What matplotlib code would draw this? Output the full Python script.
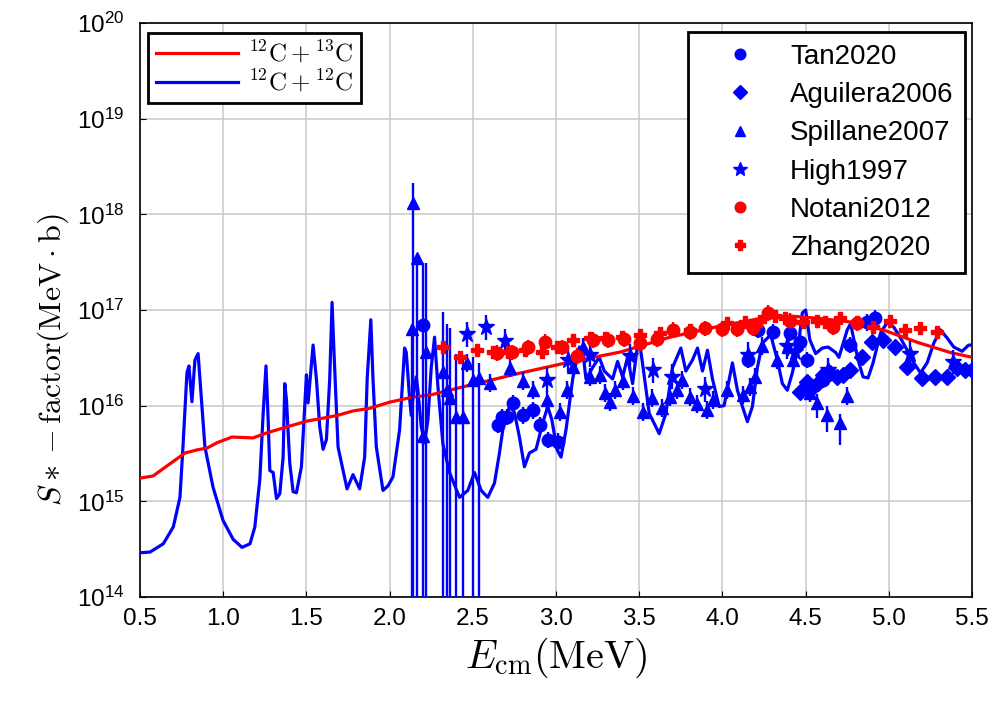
import matplotlib
matplotlib.use('Agg')
import matplotlib.pyplot as plt
from matplotlib.ticker import FixedLocator, NullLocator, LogFormatterSciNotation

plt.rcParams['font.family'] = ['Liberation Sans', 'DejaVu Sans']
plt.rcParams['mathtext.fontset'] = 'cm'

# ---- theory curves ----
e_12c13c = [0.5, 0.578, 0.698, 0.77, 0.843, 0.903, 0.963, 1.053, 1.179, 1.263, 1.383,
            1.504, 1.60, 1.684, 1.78, 1.882, 2.002, 2.14, 2.243, 2.483, 2.784, 3.084,
            3.385, 3.685, 3.986, 4.268, 4.424, 4.569, 4.767, 4.965, 5.17, 5.368, 5.5]
s_12c13c = [1.75e15, 1.84e15, 2.6e15, 3.2e15, 3.45e15, 3.6e15, 4.1e15, 4.7e15, 4.6e15,
            5.2e15, 6.0e15, 6.9e15, 7.4e15, 7.9e15, 8.8e15, 9.4e15, 1.09e16, 1.23e16,
            1.29e16, 1.64e16, 2.19e16, 2.86e16, 3.63e16, 5.2e16, 6.8e16, 8.4e16, 8.6e16,
            8.2e16, 7.5e16, 6.2e16, 4.6e16, 3.6e16, 3.2e16]

e_12c12c = [0.50, 0.56, 0.64, 0.70, 0.74, 0.758, 0.782, 0.794, 0.812, 0.83, 0.849, 0.86,
            0.89, 0.939, 0.999, 1.06, 1.113, 1.161, 1.19, 1.22, 1.24, 1.257, 1.27, 1.28,
            1.30, 1.32, 1.34, 1.36, 1.37, 1.38, 1.40, 1.42, 1.44, 1.47, 1.50, 1.51, 1.54,
            1.56, 1.58, 1.60, 1.62, 1.64, 1.654, 1.666, 1.69, 1.744, 1.78, 1.82, 1.85,
            1.865, 1.887, 1.90, 1.92, 1.96, 1.99, 2.02, 2.06, 2.09, 2.10, 2.12, 2.13, 2.14,
            2.16, 2.17, 2.19, 2.21, 2.23, 2.25, 2.27, 2.29, 2.32, 2.36, 2.42, 2.47, 2.51,
            2.55, 2.59, 2.63, 2.66, 2.68, 2.72, 2.75, 2.78, 2.81, 2.84, 2.88, 2.92, 2.95,
            2.975, 3.005, 3.03, 3.06, 3.10, 3.14, 3.16, 3.18, 3.22, 3.26, 3.29, 3.34, 3.37,
            3.40, 3.43, 3.46, 3.49, 3.50, 3.52, 3.56, 3.62, 3.66, 3.70, 3.75, 3.78, 3.82,
            3.85, 3.88, 3.91, 3.94, 3.98, 4.01, 4.06, 4.09, 4.12, 4.15, 4.18, 4.21, 4.24,
            4.29, 4.33, 4.36, 4.39, 4.42, 4.455, 4.48, 4.50, 4.525, 4.56, 4.60, 4.635, 4.68,
            4.70, 4.75, 4.77, 4.79, 4.815, 4.845, 4.875, 4.905, 4.95, 4.99, 5.03, 5.07,
            5.11, 5.15, 5.19, 5.23, 5.27, 5.31, 5.35, 5.39, 5.44, 5.48, 5.50]
s_12c12c = [2.9e14, 2.95e14, 3.6e14, 5.4e14, 1.1e15, 3.7e15, 2.2e16, 2.6e16, 1.1e16, 3.0e16,
            3.5e16, 1.9e16, 3.7e15, 1.4e15, 6.3e14, 4.0e14, 3.3e14, 3.6e14, 5.4e14, 1.7e15,
            8.3e15, 2.6e16, 7.1e15, 2.1e15, 2.0e15, 1.07e15, 1.2e15, 2.9e15, 1.7e16,
            1.15e16, 2.5e15, 1.26e15, 1.23e15, 2.3e15, 2.1e16, 1.07e16, 4.3e16, 1.9e16,
            6.0e15, 3.5e15, 4.4e15, 1.9e16, 1.2e17, 3.5e16, 3.7e15, 1.35e15, 1.9e15,
            1.35e15, 2.9e15, 1.9e16, 7.9e16, 1.9e16, 3.7e15, 1.3e15, 1.45e15, 1.8e15,
            5.6e15, 4.0e16, 3.6e16, 1.2e16, 7.9e15, 1.2e16, 2.0e16, 1.45e16, 6.0e15,
            4.1e15, 7.1e15, 2.5e16, 5.2e16, 1.6e16, 4.0e15, 2.0e15, 1.1e15, 1.3e15, 2.0e15,
            1.3e15, 1.1e15, 1.55e15, 3.2e15, 5.6e15, 9.8e15, 8.5e15, 4.7e15, 2.3e15,
            3.2e15, 3.5e15, 6.6e15, 9.8e15, 7.1e15, 3.5e15, 2.9e15, 5.6e15, 1.9e16,
            4.1e16, 3.8e16, 1.9e16, 2.5e16, 3.2e16, 2.3e16, 1.9e16, 2.9e16, 2.0e16, 3.2e16,
            1.7e16, 4.3e16, 4.9e16, 2.75e16, 8.3e15, 5.1e15, 8.3e15, 2.5e16, 4.0e16,
            2.3e16, 3.0e16, 4.0e16, 2.3e16, 3.8e16, 1.9e16, 9.8e15, 1.0e16, 2.8e16,
            1.45e16, 9.8e15, 6.8e15, 9.8e15, 2.5e16, 4.5e16, 5.5e16, 3.0e16, 1.7e16,
            1.45e16, 2.2e16, 4.1e16, 9.3e16, 1.0e17, 4.9e16, 3.5e16, 4.0e16, 4.1e16,
            3.6e16, 3.2e16, 6.2e16, 7.2e16, 4.9e16, 3.0e16, 2.0e16, 1.95e16, 2.8e16,
            5.75e16, 7.4e16, 6.6e16, 5.1e16, 3.8e16, 2.8e16, 2.2e16, 2.8e16, 4.5e16,
            6.2e16, 5.1e16, 4.1e16, 3.7e16, 4.3e16, 4.3e16]

# ---- experimental data ----
tan_e = [2.201, 2.651, 2.675, 2.705, 2.742, 2.802, 2.862, 2.904, 2.952, 3.012,
         4.154, 4.214, 4.304, 4.406, 4.466, 4.508, 4.604, 4.767, 4.869, 4.917]
tan_s = [6.9e16, 6.3e15, 7.6e15, 7.6e15, 1.07e16, 7.9e15, 8.9e15, 6.3e15, 4.4e15, 4.2e15,
         3.0e16, 6.2e16, 5.9e16, 5.75e16, 4.6e16, 3.0e16, 1.86e16, 4.3e16, 7.4e16, 8.2e16]
tan_lo = [1e13] + [None] * 19
tan_hi = [3.1e17] + [None] * 19

agu_e = [4.466, 4.508, 4.538, 4.574, 4.605, 4.647, 4.689, 4.725, 4.767, 4.839,
         4.899, 4.965, 5.037, 5.109, 5.199, 5.278, 5.35, 5.41, 5.458, 5.50]
agu_s = [1.39e16, 1.77e16, 1.53e16, 1.72e16, 2.09e16, 2.19e16, 2.0e16, 2.09e16, 2.34e16,
         3.24e16, 4.62e16, 4.85e16, 4.07e16, 2.51e16, 1.95e16, 2.0e16, 2.0e16, 2.45e16,
         2.34e16, 2.34e16]

spill_e = [2.135, 2.141, 2.165, 2.201, 2.219, 2.321, 2.345, 2.363, 2.399, 2.441, 2.465,
           2.501, 2.537, 2.603, 2.724, 2.802, 2.862, 2.946, 3.024, 3.066, 3.102, 3.162,
           3.204, 3.264, 3.294, 3.324, 3.355, 3.403, 3.463, 3.523, 3.577, 3.637, 3.685,
           3.727, 3.757, 3.805, 3.847, 3.907, 3.944, 4.028, 4.124, 4.166, 4.196, 4.238,
           4.328, 4.394, 4.424, 4.526, 4.569, 4.629, 4.707, 4.749]
spill_s = [6.3e16, 1.31e18, 3.48e17, 4.8e15, 3.63e16, 2.24e16, 1.46e16, 1.2e16, 7.6e15,
           7.6e15, 2.79e16, 1.85e16, 1.94e16, 1.72e16, 2.47e16, 1.81e16, 1.46e16, 1.15e16,
           8.6e15, 1.46e16, 2.53e16, 4.1e16, 1.99e16, 2.09e16, 1.36e16, 1.09e16, 1.46e16,
           1.81e16, 1.26e16, 8.6e15, 1.2e16, 9.4e15, 1.23e16, 1.46e16, 1.85e16, 1.23e16,
           1.04e16, 9.0e15, 1.15e16, 1.46e16, 1.29e16, 1.56e16, 1.99e16, 4.2e16, 2.99e16,
           4.1e16, 2.99e16, 1.36e16, 1.06e16, 8.0e15, 6.6e15, 1.26e16]
# bars that run off the bottom of the axes, plus the long ones near 4.6 MeV
spill_lo = [1e13, 1e13, 1e13, None, 1e13, 1e13, 1e13, 1e13, 1e13, 1e13, None, 1e13, 1e13] \
    + [None] * 35 + [7.4e15, 5.3e15, 3.9e15, None]
spill_hi = [7.0e16, 2.1e18, 3.6e17, None, 3.1e17, 9.5e16, 7.2e16, 6.5e16, 3.5e16, 3.0e16,
            None, 3.2e16, 2.8e16] + [None] * 39

high_e = [2.465, 2.579, 2.694, 2.946, 3.072, 3.204, 3.445, 3.583, 3.697, 3.895, 4.154,
          4.388, 4.436, 4.635, 5.127, 5.386]
high_s = [5.6e16, 6.6e16, 4.7e16, 1.86e16, 3.0e16, 3.4e16, 3.3e16, 2.34e16, 2.0e16,
          1.48e16, 3.4e16, 4.2e16, 3.6e16, 2.34e16, 3.5e16, 2.86e16]

notani_e = [2.645, 2.736, 2.832, 2.934, 3.036, 3.126, 3.222, 3.313, 3.409, 3.505, 3.607,
            3.703, 3.805, 3.896, 3.998, 4.088, 4.184, 4.274, 4.406, 4.665, 4.809]
notani_s = [3.55e16, 3.63e16, 4.07e16, 4.62e16, 4.07e16, 3.31e16, 4.85e16, 4.85e16,
            4.97e16, 4.51e16, 4.97e16, 6.17e16, 5.89e16, 6.46e16, 6.31e16, 6.31e16,
            6.46e16, 9.3e16, 7.76e16, 6.6e16, 7.24e16]

zhang_e = [2.321, 2.423, 2.525, 2.621, 2.712, 2.814, 2.916, 3.006, 3.102, 3.204, 3.294,
           3.397, 3.505, 3.625, 3.805, 4.028, 4.136, 4.226, 4.316, 4.376, 4.486, 4.569,
           4.617, 4.707, 4.809, 4.905, 5.007, 5.097, 5.188, 5.29]
zhang_s = [4.07e16, 3.24e16, 3.8e16, 3.63e16, 3.63e16, 3.8e16, 3.63e16, 4.07e16, 4.85e16,
           5.08e16, 5.08e16, 5.21e16, 5.47e16, 5.75e16, 6.17e16, 7.24e16, 7.41e16,
           7.76e16, 8.63e16, 8.22e16, 7.41e16, 7.76e16, 7.41e16, 8.22e16, 7.41e16, 6.6e16,
           7.76e16, 6.17e16, 6.46e16, 5.89e16]

BLUE = '#0000ff'
RED = '#ff0000'


def yerr(vals, lo, hi, frac):
    # asymmetric error bars; None means a plain bar of the given relative size
    lower, upper = [], []
    for i, v in enumerate(vals):
        l = lo[i] if lo is not None and lo[i] is not None else v / (1 + frac)
        h = hi[i] if hi is not None and hi[i] is not None else v * (1 + frac)
        lower.append(v - l)
        upper.append(h - v)
    return [lower, upper]


fig = plt.figure(figsize=(9.98, 7.05), dpi=100)
ax = fig.add_axes([0.1403, 0.1532, 0.8337, 0.8142])
ax.set_yscale('log', nonpositive='clip')

l1, = ax.plot(e_12c12c, s_12c12c, color=BLUE, lw=2.3, zorder=3)
l2, = ax.plot(e_12c13c, s_12c13c, color=RED, lw=2.3, zorder=3)

eb = dict(ls='none', elinewidth=1.7, capsize=0, zorder=4)
h_tan = ax.errorbar(tan_e, tan_s, yerr=yerr(tan_s, tan_lo, tan_hi, 0.22),
                    fmt='o', ms=9, color=BLUE, **eb)
h_agu = ax.errorbar(agu_e, agu_s, yerr=yerr(agu_s, None, None, 0.08),
                    fmt='D', ms=8, color=BLUE, **eb)
h_spill = ax.errorbar(spill_e, spill_s, yerr=yerr(spill_s, spill_lo, spill_hi, 0.25),
                      fmt='^', ms=9, color=BLUE, **eb)
h_high = ax.errorbar(high_e, high_s, yerr=yerr(high_s, None, None, 0.35),
                     fmt='*', ms=12, color=BLUE, **eb)
h_not = ax.errorbar(notani_e, notani_s, yerr=yerr(notani_s, None, None, 0.2),
                    fmt='o', ms=9, color=RED, zorder=5, ls='none', elinewidth=1.7, capsize=0)
h_zh = ax.errorbar(zhang_e, zhang_s, yerr=yerr(zhang_s, None, None, 0.08),
                   fmt='P', ms=9, color=RED, zorder=5, ls='none', elinewidth=1.7, capsize=0)

ax.set_xlim(0.5, 5.5)
ax.set_ylim(1e14, 1e20)
ax.set_xticks([0.5, 1.0, 1.5, 2.0, 2.5, 3.0, 3.5, 4.0, 4.5, 5.0, 5.5])
ax.set_xticklabels(['0.5', '1.0', '1.5', '2.0', '2.5', '3.0', '3.5', '4.0', '4.5', '5.0', '5.5'])
ax.yaxis.set_major_locator(FixedLocator([1e14, 1e15, 1e16, 1e17, 1e18, 1e19, 1e20]))
ax.yaxis.set_major_formatter(LogFormatterSciNotation())
ax.yaxis.set_minor_locator(NullLocator())
ax.tick_params(direction='in', length=4, labelsize=17.5, pad=8)
ax.tick_params(axis='y', pad=11)
ax.grid(True, color='#c8c8c8', lw=1.1)
ax.set_axisbelow(True)
for sp in ax.spines.values():
    sp.set_linewidth(1.2)

ax.set_xlabel(r'$E_{\rm cm}(\mathrm{MeV})$', fontsize=29, labelpad=4)
ax.set_ylabel(r'$S* - \mathrm{factor}(\mathrm{MeV} \cdot \mathrm{b})$', fontsize=23)
ax.yaxis.set_label_coords(-0.083, 0.413)

leg1 = ax.legend([l2, l1], [r'$^{12}\mathrm{C} + ^{13}\mathrm{C}$', r'$^{12}\mathrm{C} + ^{12}\mathrm{C}$'],
                 loc='upper left', bbox_to_anchor=(0.0096, 0.9826), borderaxespad=0,
                 fontsize=18, handlelength=3.3, handletextpad=0.4, fancybox=False,
                 framealpha=1, edgecolor='black', labelspacing=0.1, borderpad=0.3)
leg1.get_frame().set_linewidth(2)
ax.add_artist(leg1)

markers = [h_tan, h_agu, h_spill, h_high, h_not, h_zh]
names = ['Tan2020', 'Aguilera2006', 'Spillane2007', 'High1997', 'Notani2012', 'Zhang2020']
leg2 = ax.legend([h[0] for h in markers], names, loc='upper right',
                 bbox_to_anchor=(0.9916, 0.984), borderaxespad=0, fontsize=20,
                 markerscale=0.85, handlelength=2.9, handletextpad=0.35,
                 fancybox=False, framealpha=1, edgecolor='black', labelspacing=0.44,
                 borderpad=0.42)
leg2.get_frame().set_linewidth(2)

fig.savefig('out.png', dpi=100)
